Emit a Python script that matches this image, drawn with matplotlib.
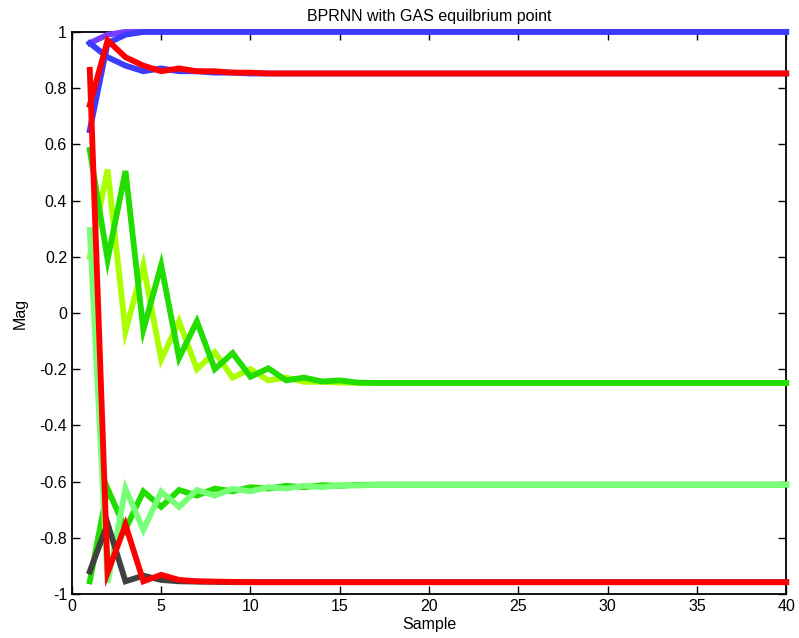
import numpy as np
import matplotlib
matplotlib.use("Agg")
import matplotlib.pyplot as plt

# sample axis 1..40
samples = np.arange(1, 41)

# series; first samples given explicitly, tail is the settled value
purple_head = [0.96, 0.99, 1.0]
purple_tail = 1.0
blue_up_head = [0.65, 0.96, 0.99, 1.0]
blue_up_tail = 1.0
blue_down_head = [0.96, 0.91, 0.88, 0.86, 0.87, 0.86, 0.86, 0.855, 0.855, 0.852]
blue_down_tail = 0.852
red_top_head = [0.74, 0.97, 0.91, 0.88, 0.86, 0.87, 0.86, 0.86, 0.855, 0.855, 0.852]
red_top_tail = 0.852

green_hi_head = [0.58, 0.19, 0.505, -0.06, 0.17, -0.16, -0.03, -0.20, -0.143, -0.227,
                 -0.197, -0.24, -0.23, -0.244, -0.24, -0.248]
green_hi_tail = -0.249
lime_head = [0.20, 0.51, -0.065, 0.17, -0.165, -0.03, -0.20, -0.14, -0.23, -0.20,
             -0.24, -0.23, -0.245, -0.245, -0.248]
lime_tail = -0.249

green_lo_head = [-0.955, -0.625, -0.77, -0.635, -0.69, -0.63, -0.65, -0.625, -0.635, -0.62,
                 -0.625, -0.615, -0.62, -0.613, -0.615, -0.612]
green_lo_tail = -0.611
light_green_head = [0.295, -0.96, -0.625, -0.772, -0.636, -0.69, -0.63, -0.65, -0.626, -0.635,
                    -0.62, -0.625, -0.615, -0.62, -0.613, -0.614]
light_green_tail = -0.611

gray_head = [-0.92, -0.75, -0.955, -0.935, -0.95, -0.955, -0.956, -0.957]
gray_tail = -0.958
red_low_head = [0.865, -0.924, -0.754, -0.955, -0.932, -0.95, -0.955, -0.956, -0.957]
red_low_tail = -0.958

y_ticks = [-1, -0.8, -0.6, -0.4, -0.2, 0, 0.2, 0.4, 0.6, 0.8, 1]
y_tick_labels = ["-1", "-0.8", "-0.6", "-0.4", "-0.2", "0", "0.2", "0.4", "0.6", "0.8", "1"]
x_ticks = [0, 5, 10, 15, 20, 25, 30, 35, 40]


def full(head, tail):
    return np.array(head + [tail] * (len(samples) - len(head)))


# drawing order matters: later lines sit on top
series = [
    (full(lime_head, lime_tail), "#aaff00"),
    (full(green_hi_head, green_hi_tail), "#22dd00"),
    (full(green_lo_head, green_lo_tail), "#22dd00"),
    (full(light_green_head, light_green_tail), "#77ff77"),
    (full(gray_head, gray_tail), "#404040"),
    (full(purple_head, purple_tail), "#7a3cff"),
    (full(blue_up_head, blue_up_tail), "#3c3cff"),
    (full(blue_down_head, blue_down_tail), "#3c3cff"),
    (full(red_low_head, red_low_tail), "#ff0000"),
    (full(red_top_head, red_top_tail), "#ff0000"),
]

plt.rcParams["font.family"] = ["Liberation Sans", "DejaVu Sans"]
fig = plt.figure(figsize=(7.99, 6.38), dpi=100)
ax = fig.add_axes([0.090, 0.069, 0.894, 0.881])

for vals, col in series:
    # not clipped, so the line sitting on y=1 shows its full width like in matlab
    ax.plot(samples, vals, color=col, linewidth=4.2, solid_joinstyle="miter",
            clip_on=False, zorder=3)

ax.set_xlim(0, 40)
ax.set_ylim(-1, 1)
ax.set_xticks(x_ticks)
ax.set_yticks(y_ticks)
ax.set_yticklabels(y_tick_labels)
ax.tick_params(direction="in", top=True, right=True, length=6, labelsize=11.5, width=1)
for s in ax.spines.values():
    s.set_linewidth(1.3)
ax.set_xlabel("Sample", fontsize=11.5, labelpad=2)
ax.set_ylabel("Mag", fontsize=11.5, labelpad=8)
ax.set_title("BPRNN with GAS equilbrium point", fontsize=11.5, pad=8)

fig.savefig("out.png", dpi=100)
